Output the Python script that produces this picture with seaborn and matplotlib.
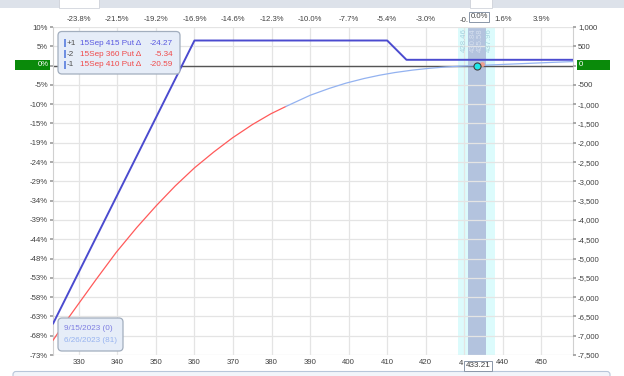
import matplotlib
matplotlib.use("Agg")
import matplotlib.pyplot as plt
import matplotlib.patches as mpatches
import matplotlib.transforms as mtransforms
import seaborn as sns

# ---------------- data ----------------
current_price = 433.21

exp_price = [323.3, 360.0, 410.0, 415.0, 458.2]
exp_pnl = [-6690, 650, 650, 150, 150]

t0_red_price = [323.3, 326.0, 329.3, 334.5, 339.7, 345.0, 350.1, 355.0,
                360.0, 365.0, 369.9, 375.0, 379.8, 383.7]
t0_red_pnl = [-7120, -6720, -6260, -5540, -4840, -4200, -3630, -3120,
              -2650, -2240, -1870, -1530, -1250, -1060]

t0_blue_price = [383.7, 390.0, 395.0, 399.3, 404.0, 408.0, 412.0, 416.5,
                 421.0, 425.2, 429.0, 433.2, 440.0, 446.0, 452.0, 458.2]
t0_blue_pnl = [-1060, -770, -590, -455, -335, -250, -180, -118,
               -70, -36, -16, 0, 30, 55, 80, 104]

band_outer = (428.46, 437.96)
band_inner = (430.84, 435.58)
band_labels = ["428.46", "430.84", "435.58", "437.96"]

x_ticks = [330, 340, 350, 360, 370, 380, 390, 400, 410, 420, 430, 440, 450]
x_labels = ["330", "340", "350", "360", "370", "380", "390", "400", "410",
            "420", "4", "440", "450"]
top_labels = ["-23.8%", "-21.5%", "-19.2%", "-16.9%", "-14.6%", "-12.3%",
              "-10.0%", "-7.7%", "-5.4%", "-3.0%", "-0.", "1.6%", "3.9%"]

pnl_ticks = [1000, 500, 0, -500, -1000, -1500, -2000, -2500, -3000, -3500,
             -4000, -4500, -5000, -5500, -6000, -6500, -7000, -7500]
pnl_labels = ["1,000", "500", "0", "-500", "-1,000", "-1,500", "-2,000",
              "-2,500", "-3,000", "-3,500", "-4,000", "-4,500", "-5,000",
              "-5,500", "-6,000", "-6,500", "-7,000", "-7,500"]
pct_labels = ["10%", "5%", "0%", "-5%", "-10%", "-15%", "-19%", "-24%",
              "-29%", "-34%", "-39%", "-44%", "-48%", "-53%", "-58%",
              "-63%", "-68%", "-73%"]

legend_qty = ["+1", "-2", "-1"]
legend_names = ["15Sep 415 Put Δ", "15Sep 360 Put Δ", "15Sep 410 Put Δ"]
legend_vals = ["-24.27", "-5.34", "-20.59"]
legend_colors = ["#5a5ae0", "#f04a4a", "#f04a4a"]

date_labels = ["9/15/2023 (0)", "6/26/2023 (81)"]
date_colors = ["#7e7ee2", "#98b4f0"]

# ---------------- style ----------------
sns.set_theme(style="white")
plt.rcParams["font.family"] = ["Liberation Sans", "DejaVu Sans"]
FS = 5.6
TXT = "#404040"

W, H = 624, 376
fig = plt.figure(figsize=(W / 100, H / 100), dpi=100)
fig.patch.set_facecolor("white")
# pixel transform (top-left origin)
T = mtransforms.Affine2D().scale(1 / 100, -1 / 100).translate(0, H / 100) + fig.dpi_scale_trans

L, R, TOP, BOT = 53, 573, 27, 355
ax = fig.add_axes([L / W, 1 - BOT / H, (R - L) / W, (BOT - TOP) / H])
ax.set_facecolor("white")
xmin, xmax = 323.3, 458.2
ymin, ymax = -7500, 1000
ax.set_xlim(xmin, xmax)
ax.set_ylim(ymin, ymax)

# band
ax.axvspan(*band_outer, color="#dcfbfc", zorder=0.2, lw=0)
ax.axvspan(*band_inner, color="#b3c3de", zorder=0.3, lw=0)

ax.grid(True, color="#e4e4e4", lw=0.9)
ax.set_axisbelow(True)

# zero line
ax.axhline(0, color="#555555", lw=1.0, zorder=2)

# lines
sns.lineplot(x=exp_price, y=exp_pnl, ax=ax, color="#4b4bcf", lw=1.4, zorder=4)
sns.lineplot(x=t0_red_price, y=t0_red_pnl, ax=ax, color="#ff5a5a", lw=0.9, zorder=3)
sns.lineplot(x=t0_blue_price, y=t0_blue_pnl, ax=ax, color="#93b2f0", lw=0.9, zorder=3)

# markers
ax.scatter([current_price + 1.4], [40], s=12, color="#f0a090", zorder=5, lw=0)
ax.scatter([current_price], [0], s=26, color="#20e8e8", edgecolor="#404040",
           lw=0.8, zorder=6)

# band labels
for i, (p, lab) in enumerate(zip([band_outer[0], band_inner[0], band_inner[1], band_outer[1]],
                                 band_labels)):
    left_side = i < 2
    col = "#a6d2de" if i in (0, 3) else "#d6e0ef"
    ax.annotate(lab, xy=(p, ymax), xytext=(1.6 if left_side else -1.6, -1),
                textcoords="offset points", rotation=90,
                ha="left" if left_side else "right", va="top",
                fontsize=FS, color=col, zorder=7)

# axes ticks (labels at 430 are drawn separately: only their visible part)
ax.set_xticks(x_ticks)
ax.set_xticklabels([("" if v == 430 else l) for v, l in zip(x_ticks, x_labels)])
ax.set_yticks(pnl_ticks)
ax.set_yticklabels([("" if l == "0%" else l) for l in pct_labels])
ax.tick_params(axis="x", length=0, pad=3.0, labelsize=FS, colors=TXT)
ax.tick_params(axis="y", length=2.5, pad=1.2, labelsize=FS, colors=TXT,
               color="#a0a0a0")
for s in ["top", "bottom"]:
    ax.spines[s].set_visible(False)
for s in ["left", "right"]:
    ax.spines[s].set_color("#d0d0d0")
    ax.spines[s].set_linewidth(0.8)
ax.set_xlabel("")
ax.set_ylabel("")

ax2 = ax.twinx()
ax2.set_ylim(ymin, ymax)
ax2.set_yticks(pnl_ticks)
ax2.set_yticklabels([("" if l == "0" else l) for l in pnl_labels])
ax2.tick_params(axis="y", length=2.5, pad=1.2, labelsize=FS, colors=TXT,
                color="#a0a0a0")
for s in ax2.spines.values():
    s.set_visible(False)
ax2.grid(False)

ax3 = ax.twiny()
ax3.set_xlim(xmin, xmax)
ax3.set_xticks(x_ticks)
ax3.set_xticklabels([("" if v == 430 else l) for v, l in zip(x_ticks, top_labels)])
ax3.tick_params(axis="x", length=0, pad=3.2, labelsize=FS, colors=TXT)
for s in ax3.spines.values():
    s.set_visible(False)
ax3.grid(False)

# ---------------- overlays (pixel coords) ----------------
def rect(x, y, w, h, fc, ec="none", lw=0.8, r=0, z=3):
    if r > 0:
        p = mpatches.FancyBboxPatch((x, y), w, h, boxstyle=f"round,pad=0,rounding_size={r}",
                                    fc=fc, ec=ec, lw=lw, transform=T, zorder=z)
    else:
        p = mpatches.Rectangle((x, y), w, h, fc=fc, ec=ec, lw=lw, transform=T, zorder=z)
    fig.add_artist(p)

# top UI strip
rect(0, 0, W, 8.3, "#dde2ea", z=1)
rect(59, -2, 40, 9.5, "white", ec="#c8ccd4", lw=0.5, z=1.1)
rect(470, -2, 22, 9.5, "white", ec="#c8ccd4", lw=0.5, z=1.1)
# bottom UI bar
rect(13, 371.5, 597, 12, "#f2f5fa", ec="#b8c6da", lw=0.8, r=3, z=1)

# green zero boxes
rect(15, 60, 35, 10, "#0a8a0a", z=3)
fig.text(48.5, 65, "0%", transform=T, ha="right", va="center", fontsize=FS,
         color="white", zorder=4)
rect(577, 60, 33, 10, "#0a8a0a", z=3)
fig.text(579, 65, "0", transform=T, ha="left", va="center", fontsize=FS,
         color="white", zorder=4)

# visible parts of the 430 tick labels, just left of the current-price boxes
fig.text(468.2, 20, top_labels[x_ticks.index(430)], transform=T,
         ha="right", va="center", fontsize=FS, color=TXT, zorder=2)
fig.text(463.4, 363.5, x_labels[x_ticks.index(430)], transform=T,
         ha="right", va="center", fontsize=FS, color=TXT, zorder=2)

# current price boxes
rect(464, 360.5, 28, 10, "white", ec="#8a96a8", lw=0.7, z=3)
fig.text(478, 365.5, "433.21", transform=T, ha="center", va="center",
         fontsize=FS + 0.3, color=TXT, zorder=4)
rect(469, 12.3, 20, 9.5, "white", ec="#8a96a8", lw=0.7, z=3)
fig.text(479, 17, "0.0%", transform=T, ha="center", va="center",
         fontsize=FS, color=TXT, zorder=4)

# legend box
rect(58, 31.5, 122, 42.5, "#e6edf8", ec="#a2aebe", lw=0.9, r=4, z=3)
row_y = [43.3, 54.0, 64.5]
for qty, name, val, col, y in zip(legend_qty, legend_names, legend_vals,
                                  legend_colors, row_y):
    rect(64.3, y - 4, 2, 8, "#6f8fe2", z=4)
    fig.text(66.8, y, qty, transform=T, ha="left", va="center", fontsize=5.9,
             color="#505050", zorder=4)
    fig.text(79.5, y, name, transform=T, ha="left", va="center", fontsize=5.9,
             color=col, zorder=4)
    fig.text(172.8, y, val, transform=T, ha="right", va="center", fontsize=5.9,
             color=col, zorder=4)

# date box
rect(58, 318, 65, 33, "#e6edf8", ec="#a2aebe", lw=0.9, r=4, z=3)
for lab, col, y in zip(date_labels, date_colors, [329, 340]):
    fig.text(64, y, lab, transform=T, ha="left", va="center", fontsize=5.9,
             color=col, zorder=4)

fig.savefig("out.png", dpi=100)
